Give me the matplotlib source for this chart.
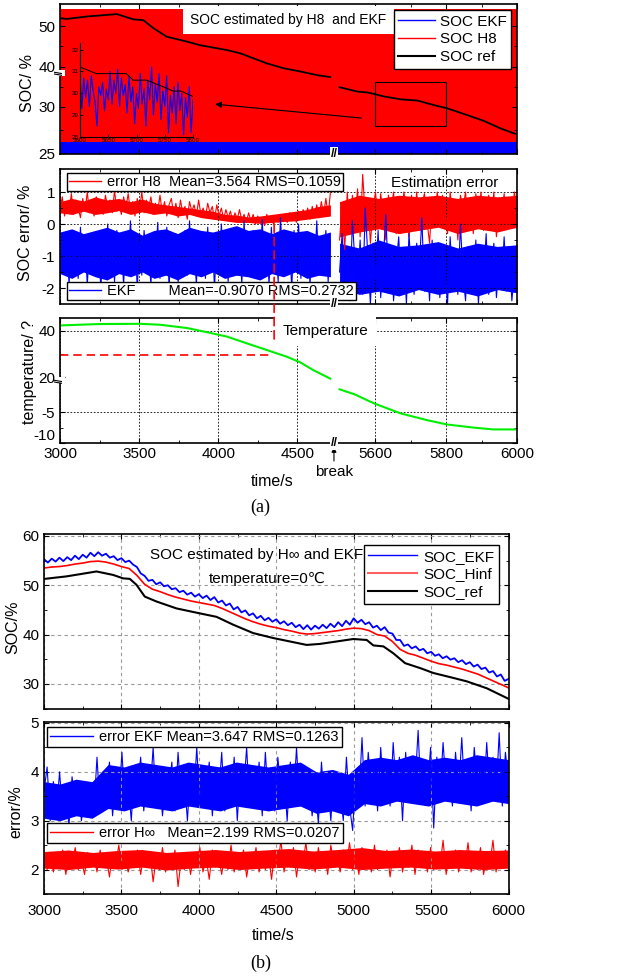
import numpy as np
import matplotlib
matplotlib.use("Agg")
import matplotlib.pyplot as plt
from matplotlib.lines import Line2D
from matplotlib.patches import Rectangle, ConnectionPatch
from matplotlib.ticker import FixedLocator

plt.rcParams["font.family"] = ["Liberation Sans", "DejaVu Sans"]
plt.rcParams["font.size"] = 11
plt.rcParams["axes.unicode_minus"] = False
plt.rcParams["xtick.direction"] = "in"
plt.rcParams["ytick.direction"] = "in"
plt.rcParams["xtick.top"] = True
plt.rcParams["ytick.right"] = True
plt.rcParams["axes.linewidth"] = 1.2
plt.rcParams["legend.fancybox"] = False
plt.rcParams["legend.edgecolor"] = "black"
plt.rcParams["legend.framealpha"] = 1
plt.rcParams["legend.fontsize"] = 10.5

nan = np.nan

# ================= (a) data =================
# SOC reference (black), nan = axis break
soc_a_ref_t = [3000, 3042, 3169, 3359, 3464, 3527, 3591, 3675, 3802, 3886, 4055, 4139, 4308,
               4413, 4519, 4625, 4709, nan,
               5500, 5551, 5579, 5626, 5672, 5719, 5765, 5803, 5859, 5906, 5952, 5994]
soc_a_ref = [52.0, 51.8, 52.4, 53.0, 51.7, 51.5, 49.5, 47.4, 46.2, 45.3, 44.1, 43.3, 40.8,
             39.6, 38.8, 37.9, 37.4, nan,
             34.9, 33.8, 33.6, 32.6, 31.9, 31.6, 30.5, 29.86, 29.13, 28.5, 27.7, 27.1]
# the H8 / EKF estimates are so noisy that they fill the panel as bands
soc_a_band_t = [3000, 6000]
soc_a_h8_lo = [26.15, 26.15]
soc_a_h8_hi = [54.3, 54.3]
soc_a_ekf_lo = [24.9, 24.9]
soc_a_ekf_hi = [26.15, 26.15]

# zoomed window shown in the inset
zoom_t0, zoom_t1 = 5600, 5800
zoom_v0, zoom_v1 = 27.97, 36.3
arrow_from = (5562, 28.8)
arrow_to = (3981, 30.7)

inset_ref_t = [5600, 5629, 5682, 5694, 5718, 5747, 5765, 5779, 5800]
inset_ref = [31.2, 30.9, 30.9, 30.6, 30.6, 30.3, 30.1, 30.1, 29.85]
inset_ekf = [30.9, 29.3, 30.7, 29.8, 30.6, 29.4, 30.8, 30.1, 29.6, 28.5, 30.3, 29.9, 30.5, 29.2, 30.2,
             29.7, 31.0, 29.5, 30.6, 30.0, 31.1, 29.4, 30.7, 29.9, 30.4, 29.1, 30.8, 29.6, 30.3, 28.6,
             30.0, 29.3, 30.9, 29.5, 30.2, 28.5, 30.6, 29.7, 31.2, 29.0, 30.4, 29.6, 30.9, 28.8, 30.1,
             29.4, 30.8, 28.2, 29.9, 29.1, 30.3, 28.6, 30.5, 29.2, 30.0, 28.1, 29.8, 28.9, 30.3, 28.2, 29.7]

# SOC error, left part 3000-4710 s, right part 5500-6000 s
err_left_span = (3000, 4710)
err_right_span = (5500, 6000)
err_h8_left = [0.45, 0.85, 0.25, 0.7, 0.35, 0.95, 0.3, 0.75, 0.5, 0.2, 0.8, 0.4, 1.0, 0.35, 0.6,
               0.25, 0.85, 0.45, 0.7, 0.3, 0.9, 0.5, 0.75, 0.35, 1.05, 0.4, 0.65, 0.3, 0.85, 0.5,
               0.95, 0.4, 0.7, 0.25, 0.8, 0.45, 1.0, 0.35, 0.75, 0.5, 0.85, 0.3, 0.65, 0.4, 0.9,
               0.35, 0.7, 0.25, 0.6,
               0.8, 0.3, 0.65, 0.2, 0.75, 0.35, 0.55, 0.15, 0.7, 0.4, 0.6, 0.25, 0.75, 0.3, 0.5,
               0.2, 0.65, 0.35, 0.55, 0.15, 0.6,
               0.25, 0.5, 0.15, 0.45, 0.2, 0.4, 0.1, 0.35, 0.15, 0.45, 0.1, 0.3, 0.05, 0.35,
               0.1, 0.3, 0.0, 0.25, 0.05, 0.2, -0.05, 0.3, 0.05, 0.15, 0.0, 0.25, 0.05, 0.2, 0.1,
               0.3, 0.05,
               0.35, 0.1, 0.3, 0.05, 0.4, 0.15, 0.45, 0.2, 0.5, 0.15, 0.55, 0.25, 0.6, 0.2, 0.7,
               0.3, 0.8, 0.25, 1.0]
err_ekf_left = [-1.8, -0.3, -1.5, -0.6, -1.9, -0.2, -1.2, -0.8, -1.7, -0.1, -1.4, -0.5, -1.9, -0.7,
                -1.1, -0.3, -1.6, -0.9, -2.0, -0.4, -1.3, 0.0, -1.5, -0.6, -1.8, -0.2, -1.0, -0.7,
                -1.9, -0.3, -1.4, 0.1, -1.2, -0.5, -2.0, -0.6, -1.6, -0.2, -1.1, -0.8, -1.9, -0.4,
                -1.3, 0.05, -1.7, -0.6, -1.5, -0.1, -2.0, -0.5, -1.2, -0.3, -1.8, -0.7, -1.0, -0.2,
                -1.6, 0.1, -1.4, -0.6, -1.9, -0.3, -1.1, -0.8, -1.7, -0.1, -1.3, -0.5, -2.0, -0.4,
                -1.5, 0.0, -1.2, -0.7, -1.8, -0.2, -1.0, -0.6, -1.6, -0.3, -1.9, 0.1, -1.4, -0.5,
                -1.1, -0.2, -1.7, -0.8, -1.3, 0.15, -1.6, -0.4, -1.9, -0.1, -1.2, -0.6, -1.8, 0.2,
                -1.0, -0.3, -1.5, -0.7, -2.0, -0.2, -1.3, 0.0, -1.7, -0.5, -1.1, -0.3, -1.9, -0.6,
                -1.4, 0.1, -1.6, -0.4, -1.2, -0.2, -1.8, -0.5]
err_h8_right = [-0.5, 0.6, -0.8, 1.0, -0.2, 0.9, 0.1, 1.1, -0.4, 1.55, 0.2, 0.8, -0.6, 0.5, 1.0,
                -0.1, 0.95, 0.3, -0.5, 0.9, 0.4, 1.0, -0.3, 0.7, 0.0, 1.0, 0.5, -0.4, 0.9, 0.2,
                1.0, -0.2, 0.6, 0.95, 0.1, -0.6, 0.8, 0.3, 1.0, -0.1, 0.9, 0.4, -0.3, 1.0, 0.2,
                0.7, -0.5, 0.9, 0.5, 1.0, 0.0, 0.8, -0.3, 0.95, 0.3, 1.0, -0.2, 0.6, 0.9, 0.1,
                1.0, -0.4, 0.7, 0.3, 0.95, -0.1, 0.8, 0.2, 1.0, 0.4]
err_ekf_right = [-1.5, -0.3, -2.0, -0.8, -2.4, 0.1, -1.2, -1.9, -0.5, -2.2, 0.5, -1.0, -2.5, -0.6,
                 -1.7, -0.2, -2.3, -1.1, 0.3, -1.8, -0.7, -2.4, -1.3, -0.4, -2.0, -0.9, -2.5, -0.3,
                 -1.6, -2.2, -0.6, -1.4, 0.2, -2.1, -1.0, -2.4, -0.5, -1.8, -1.2, -2.3, -0.8, -1.5,
                 -2.5, -0.4, -1.9, -1.1, -2.2, 0.0, -1.6, -2.4, -0.7, -1.3, -2.0, -0.5, -2.5, -1.0,
                 -1.8, -0.3, -2.2, -1.4, -0.6, -2.3, -1.2, -1.9, -0.4, -2.1, -0.9, -2.4, -1.5, -0.7]
# dense core of each trace (where the original trace is solid colour)
core_h8_left_lo = [0.35, 0.3, 0.4, 0.3, 0.35, 0.42, 0.3, 0.38, 0.3, 0.35, 0.25, 0.3, 0.2, 0.15,
                   0.1, 0.05, 0.05, 0.02, 0.05, 0.08, 0.1, 0.15, 0.2, 0.25]
core_h8_left_hi = [0.7, 0.8, 0.72, 0.85, 0.75, 0.8, 0.7, 0.78, 0.65, 0.6, 0.55, 0.5, 0.45, 0.4,
                   0.3, 0.28, 0.22, 0.25, 0.3, 0.35, 0.4, 0.45, 0.55, 0.6]
core_ekf_left_lo = [-1.55, -1.7, -1.5, -1.65, -1.75, -1.55, -1.65, -1.5, -1.7, -1.6, -1.75, -1.55,
                    -1.65, -1.5, -1.7, -1.6, -1.65, -1.75, -1.55, -1.65, -1.5, -1.7, -1.6, -1.65]
core_ekf_left_hi = [-0.25, -0.15, -0.3, -0.2, -0.1, -0.25, -0.15, -0.35, -0.2, -0.15, -0.3, -0.1,
                    -0.2, -0.25, -0.15, -0.05, -0.2, -0.15, -0.3, -0.15, -0.25, -0.2, -0.35, -0.25]
core_h8_right_lo = [-0.4, -0.25, -0.15, -0.3, -0.2, -0.1, -0.3, -0.15, -0.25, -0.1]
core_h8_right_hi = [0.7, 0.9, 0.8, 0.9, 0.85, 0.9, 0.8, 0.9, 0.85, 0.9]
core_ekf_right_lo = [-2.0, -2.2, -2.1, -2.25, -2.05, -2.2, -2.1, -2.25, -2.05, -2.15]
core_ekf_right_hi = [-0.6, -0.75, -0.5, -0.7, -0.65, -0.55, -0.75, -0.6, -0.7, -0.65]

# temperature (green)
temp_t = [3000, 3253, 3506, 3633, 3802, 3928, 4055, 4181, 4308, 4435, 4519, 4603, 4709, nan,
          5500, 5542, 5598, 5672, 5747, 5803, 5877, 5933, 5994]
temp_v = [42.3, 42.9, 43.0, 42.6, 41.2, 39.4, 37.5, 34.6, 31.7, 28.8, 26.4, 23.0, 19.4, nan,
          -1.3, -2.1, -3.6, -5.2, -6.3, -7.0, -7.5, -7.8, -7.8]
mark_t = 4354          # red dashed marker time
mark_temp = 29.6       # red dashed marker temperature
mark_t_end = 4330

# broken axes: value -> drawn position
xa_src, xa_dst = [3000, 4720, 5490, 6000], [0, 272, 276, 457]
gap_t = 5100
soc_src, soc_dst = [24.9, 30, 55.5], [0, 47, 150]
temp_src, temp_dst = [-10, 0, 18.5, 45.5], [0, 61.4, 62, 124.4]

xa_ticks = [3000, 3500, 4000, 4500, 5600, 5800, 6000]
xa_minor = [3250, 3750, 4250, 5700, 5900]
temp_ticks = [40, 20, -5, -10]
temp_grid = [40, -5]

# ================= (b) data =================
time_b = (3000, 6000)
soc_b_ref_t = [3005, 3145, 3339, 3446, 3511, 3554, 3597, 3651, 3727, 3856, 4006, 4114, 4222, 4351,
               4480, 4588, 4696, 4782, 4998, 5084, 5127, 5192, 5256, 5332, 5429, 5515, 5644, 5731,
               5860, 6004]
soc_b_ref = [51.3, 51.8, 52.8, 52.1, 51.4, 51.3, 50.1, 47.7, 46.7, 45.3, 44.3, 43.6, 42.0, 40.3,
             39.3, 38.6, 37.9, 38.1, 39.1, 38.9, 37.8, 37.6, 36.2, 34.2, 33.2, 32.2, 31.2, 30.5,
             29.1, 26.9]
soc_b_hinf = [53.5, 53.7, 53.8, 54.0, 54.3, 54.5, 54.8, 54.9, 54.7, 54.3, 53.8, 53.4, 52.0, 50.2,
              49.2, 48.7, 48.1, 47.6, 47.2, 46.8, 46.5, 46.2, 45.9, 45.3, 44.6, 43.9, 43.2, 42.6,
              42.1, 41.7, 41.4, 41.0, 40.7, 40.3, 40.1, 40.2, 40.4, 40.6, 40.8, 41.1, 41.3, 41.2,
              40.8, 40.0, 39.7, 38.6, 37.0, 36.2, 35.8, 35.2, 34.6, 34.1, 33.8, 33.4, 33.0, 32.5,
              32.0, 31.3, 30.6, 29.9, 29.2]
soc_b_ekf = [55.3, 54.6, 55.4, 54.8, 55.6, 54.9, 55.7, 55.1, 56.0, 55.3, 56.2, 55.6, 56.6, 55.9,
             56.7, 56.0, 56.4, 55.6, 55.9, 55.1, 55.5, 54.7, 55.0, 54.2, 53.7, 52.4, 51.9, 50.9,
             51.1, 50.2, 50.6, 49.8, 50.0, 49.2, 49.4, 48.6, 48.9, 48.1, 48.5, 47.7, 48.2, 47.4,
             47.9, 47.0, 47.6, 46.5, 46.9, 45.9, 46.3, 45.1, 45.6, 44.5, 44.9, 43.9, 44.3, 43.3,
             43.8, 42.9, 43.4, 42.6, 43.1, 42.2, 42.7, 41.9, 42.4, 41.5, 42.0, 41.1, 41.9, 41.0,
             41.8, 41.2, 42.0, 41.3, 42.2, 41.5, 42.5, 41.7, 42.8, 42.0, 43.3, 42.4, 43.0, 42.1,
             42.5, 41.4, 41.8, 40.9, 41.5, 40.4, 40.2, 38.9, 38.9, 37.7, 38.0, 37.2, 37.6, 36.8,
             37.1, 36.2, 36.5, 35.7, 36.0, 35.2, 35.6, 34.9, 35.2, 34.4, 34.8, 34.0, 34.4, 33.5,
             33.9, 33.0, 33.3, 32.3, 32.6, 31.5, 31.9, 30.6, 31.0]

err_b_ekf = [3.6, 4.1, 3.0, 3.8, 3.2, 4.0, 3.1, 3.6, 2.9, 3.9, 3.3, 3.7, 3.0, 3.5, 3.1, 3.7, 3.2,
             4.3, 3.2, 4.0, 3.5, 4.2, 3.1, 3.9, 3.4, 4.4, 3.3, 3.8, 3.0, 4.1, 3.6, 4.3, 3.2, 3.9,
             3.5, 4.5, 3.3, 4.0, 3.1, 3.8, 3.6, 4.2, 3.2, 4.4, 3.5, 3.9, 3.0, 4.1, 3.4, 4.5, 3.3,
             3.8, 3.6, 4.2, 3.1, 4.0, 3.5, 4.4, 3.2, 3.9, 3.4, 4.3, 3.0, 4.1, 3.6, 4.5, 3.3, 3.8,
             3.5, 4.2, 3.1, 4.4, 3.4, 4.0, 3.2, 4.3, 3.6, 3.9, 3.0, 4.2, 3.4, 4.5, 3.3, 4.0, 3.5,
             3.9, 3.1, 3.7, 2.95, 4.2, 3.3, 3.8, 3.0, 4.0, 3.2, 3.6, 3.0, 4.3, 3.3, 2.8,
             4.0, 3.4, 4.7, 3.3, 4.4, 3.6, 4.2, 3.2, 4.5, 3.5, 4.1, 3.3, 4.6, 3.6, 4.3, 3.0, 4.4,
             3.5, 4.2, 3.7, 4.85, 3.4, 4.1, 3.6, 4.5, 2.85, 4.3, 3.5, 4.6, 3.7, 4.0, 3.3, 4.4, 3.6,
             4.7, 3.5, 4.2, 3.2, 4.5, 3.7, 4.1, 3.4, 4.6, 3.6, 4.3, 3.5, 4.8, 3.3, 4.4, 3.8]
err_b_hinf = [2.3, 2.0, 2.35, 1.95, 2.25, 2.1, 2.4, 1.9, 2.3, 2.05, 2.45, 2.0, 2.2, 1.9, 2.35, 2.1,
              2.3, 1.95, 2.4, 2.05, 2.25, 1.85, 2.35, 2.1, 2.5, 2.0, 2.3, 1.95, 2.2, 2.05, 2.4, 1.9,
              2.3, 2.1, 2.35, 1.75, 2.25, 2.0, 2.45, 1.95, 2.3, 2.05, 2.4, 1.65, 2.2, 2.0, 2.35,
              1.9, 2.3, 2.1, 2.45, 1.95, 2.25, 1.8, 2.4, 2.05, 2.3, 1.9, 2.35, 2.0, 2.5, 1.95, 2.3,
              2.1, 2.4, 1.85, 2.25, 2.05, 2.45, 1.95, 2.35, 2.0, 2.3, 1.8, 2.4, 2.1, 2.6, 1.95, 2.3,
              2.05, 2.45, 1.85, 2.35, 2.1, 2.55, 2.0, 2.3, 1.95, 2.45, 2.05, 2.35, 1.9, 2.5, 2.1,
              2.3, 1.95, 2.4, 2.05, 2.55, 2.0, 2.3, 1.9, 2.45, 2.1, 2.35, 1.95, 2.5, 2.0, 2.3, 2.05,
              2.4, 1.85, 2.35, 2.1, 2.45, 1.95, 2.3, 2.05, 2.5, 1.9, 2.4, 2.1, 2.35, 1.95, 2.45,
              2.0, 2.3, 2.05, 2.6, 1.9, 2.35, 2.1, 2.4, 1.95, 2.3, 2.05, 2.55, 1.95, 2.35, 2.0,
              2.45, 1.9, 2.3, 2.1, 2.6, 1.95, 2.35, 2.05, 2.4, 2.0]
core_b_ekf_lo = [3.05, 3.0, 3.1, 3.05, 3.25, 3.2, 3.3, 3.25, 3.2, 3.3, 3.25, 3.2, 3.3, 3.25,
                 3.2, 3.25, 3.3, 3.15, 3.2, 3.1, 3.35, 3.3, 3.4, 3.35, 3.3, 3.4, 3.35, 3.3,
                 3.4, 3.35]
core_b_ekf_hi = [3.8, 3.75, 3.85, 3.8, 4.15, 4.1, 4.2, 4.15, 4.1, 4.2, 4.15, 4.1, 4.2, 4.15,
                 4.1, 4.15, 4.2, 4.0, 4.05, 3.95, 4.25, 4.3, 4.25, 4.35, 4.25, 4.3, 4.25, 4.35,
                 4.3, 4.25]
core_b_hinf_lo = [2.03, 2.0, 2.05, 2.01, 2.05, 1.99, 2.03, 2.05, 2.0, 2.03, 2.05, 2.01, 2.05,
                  2.0, 2.03, 2.05, 2.01, 2.03, 2.0, 2.03]
core_b_hinf_hi = [2.37, 2.4, 2.35, 2.39, 2.41, 2.35, 2.38, 2.41, 2.37, 2.4, 2.43, 2.38, 2.41,
                  2.45, 2.39, 2.42, 2.38, 2.41, 2.39, 2.4]


def broken(src, dst):
    return (lambda v: np.interp(v, src, dst), lambda p: np.interp(p, dst, src))


def set_broken_x(ax, labels=True):
    ax.set_xscale("function", functions=broken(xa_src, xa_dst))
    ax.set_xlim(3000, 6000)
    ax.xaxis.set_major_locator(FixedLocator(xa_ticks))
    ax.xaxis.set_minor_locator(FixedLocator(xa_minor))
    ax.tick_params(axis="x", labelbottom=labels, pad=3)
    # "//" on the bottom spine at the break
    ax.text(gap_t, 0, "//", transform=ax.get_xaxis_transform(), ha="center", va="center",
            fontsize=9, fontweight="bold", bbox=dict(fc="white", ec="none", pad=0.5), zorder=6)


def y_break_mark(ax, v):
    ax.text(0, v, "//", transform=ax.get_yaxis_transform(), ha="center", va="center",
            rotation=90, fontsize=7, fontweight="bold",
            bbox=dict(fc="white", ec="none", pad=0.2), zorder=6)


def noisy(ax, span, values, core_lo, core_hi, color):
    ax.fill_between(np.linspace(*span, len(core_lo)), core_lo, core_hi, color=color, lw=0)
    ax.plot(np.linspace(*span, len(values)), values, color=color, lw=0.8)
    return Line2D([], [], color=color, lw=1)


fig = plt.figure(figsize=(6.21, 9.76), dpi=100)
W, H = 621, 976


def rect(l, t, r, b):
    return [l / W, 1 - b / H, (r - l) / W, (b - t) / H]


tick_kw = dict(which="both", direction="in", top=True, right=True)

# ---------- (a) SOC ----------
ax1 = fig.add_axes(rect(60, 4, 517, 154))
set_broken_x(ax1, labels=False)
ax1.set_yscale("function", functions=broken(soc_src, soc_dst))
ax1.set_ylim(24.9, 55.5)
ax1.yaxis.set_major_locator(FixedLocator([25, 30, 40, 50]))
ax1.yaxis.set_minor_locator(FixedLocator([27.5, 35, 45]))
ax1.tick_params(**tick_kw)
ax1.fill_between(soc_a_band_t, soc_a_h8_lo, soc_a_h8_hi, color="red", lw=0)
ax1.fill_between(soc_a_band_t, soc_a_ekf_lo, soc_a_ekf_hi, color="blue", lw=0)
ax1.plot(soc_a_ref_t, soc_a_ref, color="black", lw=1.3)
ax1.add_patch(Rectangle((zoom_t0, zoom_v0), zoom_t1 - zoom_t0, zoom_v1 - zoom_v0,
                        fill=False, ec="black", lw=0.8))
ax1.annotate("", xy=arrow_to, xytext=arrow_from,
             arrowprops=dict(arrowstyle="-|>", color="black", lw=0.8, mutation_scale=9,
                             shrinkA=0, shrinkB=0))
ax1.text(0.5, 0.893, "SOC estimated by H8  and EKF", transform=ax1.transAxes, ha="center",
         va="center", fontsize=10,
         bbox=dict(boxstyle="square,pad=0.5", fc="white", ec="none"))
ax1.legend([Line2D([], [], color="blue", lw=1), Line2D([], [], color="red", lw=1),
            Line2D([], [], color="black", lw=1.5)], ["SOC EKF", "SOC H8", "SOC ref"],
           loc="upper right", bbox_to_anchor=(0.987, 0.96), fontsize=11, handlelength=2.4,
           handletextpad=0.3, borderpad=0.3, labelspacing=0.25, borderaxespad=0)
ax1.set_ylabel("SOC/ %", fontsize=11.5)
ax1.yaxis.set_label_coords(-0.055, 0.473)
y_break_mark(ax1, 38.5)

# inset
axi = fig.add_axes(rect(80, 43, 193, 137))
axi.patch.set_alpha(0)
axi.plot(np.linspace(zoom_t0, zoom_t1, len(inset_ekf)), inset_ekf, color="blue", lw=0.8)
axi.plot(inset_ref_t, inset_ref, color="black", lw=0.7)
axi.set_xlim(zoom_t0, zoom_t1)
axi.set_ylim(28, 32.3)
axi.set_xticks([5600, 5650, 5700, 5750, 5800])
axi.set_yticks([28, 29, 30, 31, 32])
axi.tick_params(labelsize=4.5, length=2, width=0.6, pad=1, top=False, right=False)
for s in ["top", "right"]:
    axi.spines[s].set_visible(False)
for s in ["left", "bottom"]:
    axi.spines[s].set_linewidth(0.8)

# ---------- (a) SOC error ----------
ax2 = fig.add_axes(rect(60, 169, 517, 304))
set_broken_x(ax2, labels=False)
ax2.set_ylim(-2.5, 1.72)
ax2.set_yticks([1, 0, -1, -2])
ax2.yaxis.set_minor_locator(FixedLocator([0.5, -0.5, -1.5]))
ax2.tick_params(**tick_kw)
ax2.grid(True, which="major", ls=(0, (2, 2)), color="black", lw=0.6)
h_h8 = noisy(ax2, err_left_span, err_h8_left, core_h8_left_lo, core_h8_left_hi, "red")
noisy(ax2, err_right_span, err_h8_right, core_h8_right_lo, core_h8_right_hi, "red")
h_ekf = noisy(ax2, err_left_span, err_ekf_left, core_ekf_left_lo, core_ekf_left_hi, "blue")
noisy(ax2, err_right_span, err_ekf_right, core_ekf_right_lo, core_ekf_right_hi, "blue")
leg1 = ax2.legend([h_h8], ["error H8  Mean=3.564 RMS=0.1059"], loc="upper left",
                  bbox_to_anchor=(0.015, 0.97), handlelength=2.2, handletextpad=0.4,
                  borderpad=0.15, borderaxespad=0)
ax2.add_artist(leg1)
ax2.legend([h_ekf], ["EKF        Mean=-0.9070 RMS=0.2732"], loc="lower left",
           bbox_to_anchor=(0.015, 0.03), handlelength=2.2, handletextpad=0.4,
           borderpad=0.15, borderaxespad=0)
ax2.text(0.842, 0.896, "Estimation error", transform=ax2.transAxes, ha="center", va="center",
         fontsize=11)
ax2.set_ylabel("SOC error/ %", fontsize=11.5)
ax2.yaxis.set_label_coords(-0.059, 0.526)

# ---------- (a) temperature ----------
ax3 = fig.add_axes(rect(60, 318, 517, 443))
set_broken_x(ax3, labels=True)
ax3.set_yscale("function", functions=broken(temp_src, temp_dst))
ax3.set_ylim(-10, 45.5)
ax3.yaxis.set_major_locator(FixedLocator(temp_ticks))
ax3.yaxis.set_minor_locator(FixedLocator([30, 0, -7.5]))
ax3.tick_params(**tick_kw)
ax3.yaxis.get_major_ticks()[-1].label1.set_verticalalignment("bottom")
ax3.grid(True, axis="x", which="major", ls=(0, (2, 2)), color="black", lw=0.6)
for g in temp_grid:
    ax3.axhline(g, ls=(0, (2, 2)), color="black", lw=0.6, zorder=0.5)
ax3.plot(temp_t, temp_v, color="#00ee00", lw=1.5)
ax3.plot([3000, mark_t_end], [mark_temp, mark_temp], color="red", lw=1.2, ls=(0, (5, 3)))
ax3.text(0.582, 0.896, "Temperature", transform=ax3.transAxes, ha="center", va="center",
         fontsize=11, bbox=dict(boxstyle="square,pad=0.5", fc="white", ec="none"))
ax3.set_ylabel("temperature/ ?", fontsize=11.5)
ax3.yaxis.set_label_coords(-0.05, 0.568)
y_break_mark(ax3, 18.9)
ax3.set_xlabel("time/s", fontsize=11.5)
ax3.xaxis.set_label_coords(0.464, -0.25)
ax3.annotate("break", xy=(gap_t, 0), xycoords=ax3.get_xaxis_transform(), xytext=(0, -21),
             textcoords="offset points", ha="center", va="center", fontsize=11,
             arrowprops=dict(arrowstyle="-|>", color="black", lw=0.8, mutation_scale=7,
                             shrinkA=1, shrinkB=3))

con = ConnectionPatch(xyA=(mark_t, 0.0), coordsA="data", axesA=ax2,
                      xyB=(mark_t, 35.0), coordsB="data", axesB=ax3,
                      color="red", lw=1.2, ls=(0, (5, 3)))
fig.add_artist(con)

fig.text(260 / W, 1 - 507 / H, "(a)", ha="center", va="center", fontsize=13,
         family="Liberation Serif")

# ---------- (b) SOC ----------
ax4 = fig.add_axes(rect(44, 534, 509, 709))
ax4.set_xlim(3000, 6003)
ax4.set_ylim(24.9, 60.4)
ax4.set_xticks(range(3000, 6001, 500))
ax4.set_xticks(range(3250, 6000, 500), minor=True)
ax4.set_yticks([30, 40, 50, 60])
ax4.set_yticks([25, 35, 45, 55], minor=True)
ax4.tick_params(**tick_kw)
ax4.tick_params(axis="x", labelbottom=False)
ax4.grid(True, which="major", ls=(0, (3, 3)), color="#999999", lw=0.8)
ax4.plot(np.linspace(*time_b, len(soc_b_ekf)), soc_b_ekf, color="blue", lw=1.3)
ax4.plot(np.linspace(*time_b, len(soc_b_hinf)), soc_b_hinf, color="red", lw=1.2)
ax4.plot(soc_b_ref_t, soc_b_ref, color="black", lw=1.5)
ax4.legend([Line2D([], [], color="blue", lw=1), Line2D([], [], color="#ff6060", lw=1.5),
            Line2D([], [], color="black", lw=1.5)], ["SOC_EKF", "SOC_Hinf", "SOC_ref"],
           loc="upper right", bbox_to_anchor=(0.978, 0.937), fontsize=11, handlelength=3.2,
           handletextpad=0.4, borderpad=0.3, labelspacing=0.25, borderaxespad=0)
ax4.text(0.458, 0.88, "SOC estimated by H∞ and EKF", transform=ax4.transAxes, ha="center",
         va="center", fontsize=11)
ax4.text(0.48, 0.743, "temperature=0℃", transform=ax4.transAxes, ha="center", va="center",
         fontsize=11)
ax4.set_ylabel("SOC/%", fontsize=11.5)
ax4.yaxis.set_label_coords(-0.052, 0.469)

# ---------- (b) error ----------
ax5 = fig.add_axes(rect(44, 722, 509, 894))
ax5.set_xlim(3000, 6003)
ax5.set_ylim(1.5, 5.02)
ax5.set_xticks(range(3000, 6001, 500))
ax5.set_xticks(range(3250, 6000, 500), minor=True)
ax5.set_yticks([2, 3, 4, 5])
ax5.set_yticks([1.5, 2.5, 3.5, 4.5], minor=True)
ax5.tick_params(**tick_kw)
ax5.tick_params(axis="x", pad=7)
ax5.grid(True, which="major", ls=(0, (3, 3)), color="#999999", lw=0.8)
h_e = noisy(ax5, time_b, err_b_ekf, core_b_ekf_lo, core_b_ekf_hi, "blue")
h_h = noisy(ax5, time_b, err_b_hinf, core_b_hinf_lo, core_b_hinf_hi, "red")
leg3 = ax5.legend([h_e], ["error EKF Mean=3.647 RMS=0.1263"], loc="upper left",
                  bbox_to_anchor=(0.006, 0.971), handlelength=3.0, handletextpad=0.4,
                  borderpad=0.2, borderaxespad=0)
ax5.add_artist(leg3)
ax5.legend([h_h], ["error H∞   Mean=2.199 RMS=0.0207"], loc="upper left",
           bbox_to_anchor=(0.006, 0.413), handlelength=3.0, handletextpad=0.4,
           borderpad=0.2, borderaxespad=0)
ax5.set_ylabel("error/%", fontsize=11.5)
ax5.yaxis.set_label_coords(-0.045, 0.477)
ax5.set_xlabel("time/s", fontsize=11.5)
ax5.xaxis.set_label_coords(0.492, -0.2)

fig.text(261 / W, 1 - 963 / H, "(b)", ha="center", va="center", fontsize=13,
         family="Liberation Serif")

fig.savefig("out.png", dpi=100)
